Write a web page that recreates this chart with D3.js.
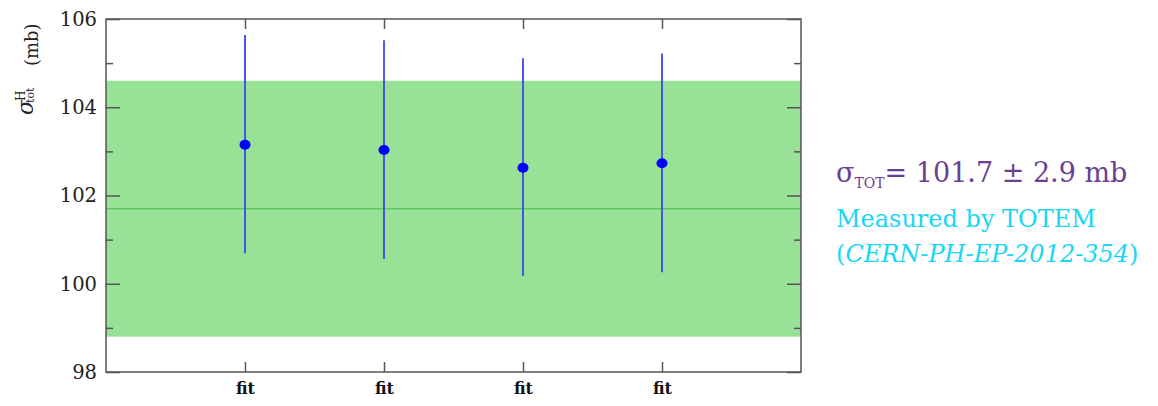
<!DOCTYPE html>
<html>
<head>
<meta charset="utf-8">
<script src="https://cdn.jsdelivr.net/npm/d3@7"></script>
<style>
  body { margin: 0; background: #fff; }
  svg { display: block; }
</style>
</head>
<body>
<svg id="chart" width="1158" height="406"></svg>
<script>
// fit results for the total cross section (mb)
const categories = ["fit", "fit", "fit", "fit"];
const centralValues = [103.15, 103.03, 102.63, 102.73];
const upperValues = [105.64, 105.52, 105.11, 105.22];
const lowerValues = [100.69, 100.56, 100.18, 100.26];

// TOTEM measurement
const totemValue = 101.7;
const totemError = 2.9;

const yTicks = [98, 100, 102, 104, 106];
const yMinorTicks = [99, 101, 103, 105];

const serif = "DejaVu Serif";
const margin = {left: 106, right: 357, top: 19, bottom: 34};
const width = 1158, height = 406;

const svg = d3.select("#chart");

const x = d3.scaleLinear()
    .domain([0, categories.length + 1])
    .range([margin.left, width - margin.right]);

const y = d3.scaleLinear()
    .domain([98, 106])
    .range([height - margin.bottom, margin.top]);

// measurement band + central line
svg.append("rect")
    .attr("x", x(0))
    .attr("width", x(categories.length + 1) - x(0))
    .attr("y", y(totemValue + totemError))
    .attr("height", y(totemValue - totemError) - y(totemValue + totemError))
    .attr("fill", "#98e298");

svg.append("line")
    .attr("x1", x(0)).attr("x2", x(categories.length + 1))
    .attr("y1", y(totemValue)).attr("y2", y(totemValue))
    .attr("stroke", "#3fc23f")
    .attr("stroke-width", 1.2);

// axes
const tickColor = "#555";
const xTickVals = d3.range(1, categories.length + 1);

function inner(axis, tx, ty) {
  svg.append("g")
      .attr("transform", `translate(${tx},${ty})`)
      .call(axis.tickFormat(""))
      .call(g => g.select(".domain").remove());
}
inner(d3.axisRight(y).tickValues(yTicks).tickSize(14), x(0), 0);
inner(d3.axisRight(y).tickValues(yMinorTicks).tickSize(7), x(0), 0);
inner(d3.axisLeft(y).tickValues(yTicks).tickSize(14), x(categories.length + 1), 0);
inner(d3.axisLeft(y).tickValues(yMinorTicks).tickSize(7), x(categories.length + 1), 0);
inner(d3.axisTop(x).tickValues(xTickVals).tickSize(10), 0, y(98));
inner(d3.axisBottom(x).tickValues(xTickVals).tickSize(10), 0, y(106));

// y labels
svg.append("g")
    .attr("transform", `translate(${x(0)},0)`)
    .call(d3.axisLeft(y).tickValues(yTicks).tickSize(0).tickPadding(9)
      .tickFormat(d3.format("d")))
    .call(g => g.select(".domain").remove())
    .call(g => g.selectAll("text")
      .attr("font-size", 19.5)
      .attr("fill", "#222")
      .attr("font-family", serif));

// x labels
svg.append("g")
    .attr("transform", `translate(0,${y(98)})`)
    .call(d3.axisBottom(x).tickValues(xTickVals).tickSize(0).tickPadding(11)
      .tickFormat((d, i) => categories[i]))
    .call(g => g.select(".domain").remove())
    .call(g => g.selectAll("text")
      .attr("font-size", 16)
      .attr("font-weight", "bold")
      .attr("fill", "#111")
      .attr("font-family", serif));

svg.selectAll(".tick line").attr("stroke", tickColor).attr("stroke-width", 1.5);

// frame
svg.append("rect")
    .attr("x", x(0)).attr("y", y(106))
    .attr("width", x(categories.length + 1) - x(0))
    .attr("height", y(98) - y(106))
    .attr("fill", "none")
    .attr("stroke", tickColor)
    .attr("stroke-width", 1.5);

// error bars + points
const pts = categories.map((c, i) => ({
  i: i + 1, v: centralValues[i], hi: upperValues[i], lo: lowerValues[i]
}));

svg.append("g").selectAll("line")
  .data(pts).join("line")
    .attr("x1", d => x(d.i)).attr("x2", d => x(d.i))
    .attr("y1", d => y(d.hi)).attr("y2", d => y(d.lo))
    .attr("stroke", "#3a46f0")
    .attr("stroke-width", 1.8);

svg.append("g").selectAll("ellipse")
  .data(pts).join("ellipse")
    .attr("cx", d => x(d.i)).attr("cy", d => y(d.v))
    .attr("rx", 5.5).attr("ry", 5)
    .attr("fill", "#0000ff");

// y axis title: sigma^H_tot (mb), rotated
const yt = svg.append("g")
    .attr("transform", "translate(33,115) rotate(-90)")
    .attr("font-family", serif)
    .attr("fill", "#222");
yt.append("text").attr("x", 0).attr("y", 0)
    .attr("font-size", 22).attr("font-style", "italic").text("σ");
yt.append("text").attr("x", 14).attr("y", -8)
    .attr("font-size", 12).text("H");
yt.append("text").attr("x", 12).attr("y", 1)
    .attr("font-size", 11).text("tot");
yt.append("text").attr("x", 49).attr("y", 5)
    .attr("font-size", 18).text("(mb)");

// annotation on the right
const t1 = svg.append("text")
    .attr("x", 836).attr("y", 182)
    .attr("font-family", serif)
    .attr("font-size", 27)
    .attr("fill", "#6b3f91");
t1.append("tspan").text("σ");
t1.append("tspan").attr("font-size", 14).attr("dy", 6).text("TOT");
t1.append("tspan").attr("dy", -6).text(`= ${totemValue} ± ${totemError} mb`);

svg.append("text")
    .attr("x", 836).attr("y", 227)
    .attr("font-family", serif)
    .attr("font-size", 24)
    .attr("fill", "#18d6f4")
    .text("Measured by TOTEM");

const t3 = svg.append("text")
    .attr("x", 836).attr("y", 262)
    .attr("font-family", serif)
    .attr("font-size", 24)
    .attr("fill", "#18d6f4");
t3.append("tspan").text("(");
t3.append("tspan").attr("font-style", "italic").text("CERN-PH-EP-2012-354");
t3.append("tspan").text(")");
</script>
</body>
</html>
